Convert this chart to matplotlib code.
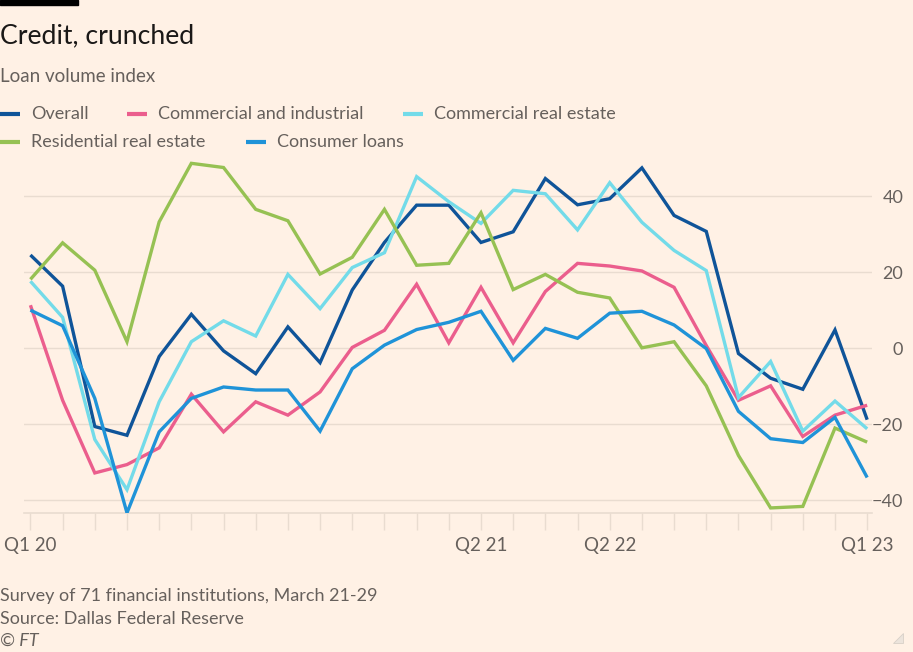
import numpy as np
import matplotlib
matplotlib.use("Agg")
import matplotlib.pyplot as plt
from matplotlib.lines import Line2D
from matplotlib.patches import Rectangle, Polygon

# survey rounds, Q1 20 .. Q1 23
x_labels = ["Q1 20"] + [""] * 13 + ["Q2 21"] + [""] * 3 + ["Q2 22"] + [""] * 7 + ["Q1 23"]

overall = [24.5, 16.3, -20.6, -22.9, -2.2, 8.9, -0.7, -6.7, 5.6, -3.8, 15.3, 27.8,
           37.6, 37.6, 27.8, 30.6, 44.6, 37.7, 39.3, 47.4, 34.9, 30.7, -1.4, -7.9,
           -10.8, 4.8, -18.8]
commercial_industrial = [11.3, -13.7, -32.8, -30.6, -26.2, -12.1, -22.0, -14.1, -17.6,
                         -11.5, 0.2, 4.7, 16.8, 1.4, 16.0, 1.4, 14.9, 22.3, 21.6, 20.3,
                         16.0, 0.7, -13.7, -9.9, -23.2, -17.6, -15.0]
commercial_re = [17.6, 8.1, -24.0, -37.2, -14.1, 1.7, 7.2, 3.2, 19.4, 10.4, 21.2, 25.1,
                 45.1, 38.5, 32.8, 41.5, 40.6, 31.1, 43.5, 33.1, 25.7, 20.4, -13.0, -3.5,
                 -21.8, -13.9, -21.2]
residential_re = [18.1, 27.7, 20.5, 1.7, 33.2, 48.6, 47.5, 36.5, 33.5, 19.5, 23.9, 36.5,
                  21.8, 22.3, 35.6, 15.4, 19.4, 14.7, 13.2, 0.1, 1.7, -9.9, -28.2, -42.0,
                  -41.6, -21.0, -24.7]
consumer = [10.0, 5.9, -13.2, -43.3, -22.0, -13.2, -10.2, -11.0, -11.0, -21.8, -5.4, 0.8,
            4.9, 6.8, 9.7, -3.2, 5.2, 2.6, 9.2, 9.7, 6.1, -0.1, -16.6, -23.8, -24.8,
            -18.2, -34.0]

series = [
    ("Overall", overall, "#0f5499"),
    ("Commercial and industrial", commercial_industrial, "#eb5e8d"),
    ("Commercial real estate", commercial_re, "#73dbe9"),
    ("Residential real estate", residential_re, "#96c153"),
    ("Consumer loans", consumer, "#1f93d8"),
]

bg = "#fff1e5"
grey_text = "#66605c"
grid_col = "#e9dcd0"
font = "Lato"

W, H = 913, 652
fig = plt.figure(figsize=(W / 100, H / 100), dpi=100, facecolor=bg)


def fx(px):
    return px / W


def fy(py):
    return 1 - py / H


ax = fig.add_axes([fx(24), fy(512.5), fx(872 - 24), (512.5 - 158) / H])
ax.set_facecolor(bg)

x = np.arange(len(overall))
for name, vals, col in series:
    ax.plot(x, vals, color=col, lw=2.4, solid_joinstyle="miter", solid_capstyle="butt",
            zorder=3)

ax.set_xlim(-0.2, 26.15)
ax.set_ylim(-43.2, 50)
ax.set_yticks([-40, -20, 0, 20, 40])
ax.grid(axis="y", color=grid_col, lw=1)
ax.yaxis.tick_right()
ax.tick_params(axis="y", length=0, pad=22.5, labelsize=13, labelcolor=grey_text)
for lab in ax.get_yticklabels():
    lab.set_fontfamily(font)
    lab.set_horizontalalignment("right")

ax.set_xticks(x)
ax.set_xticklabels(x_labels, fontfamily=font)
ax.tick_params(axis="x", length=12, width=1, color=grid_col, pad=6, labelsize=13.5,
               labelcolor=grey_text)
for s in ["top", "right", "left"]:
    ax.spines[s].set_visible(False)
ax.spines["bottom"].set_color(grid_col)
ax.spines["bottom"].set_linewidth(1.2)

# header
fig.add_artist(Rectangle((0, fy(5)), fx(78), fy(0) - fy(5), color="black",
                         transform=fig.transFigure))
fig.text(0, fy(43), "Credit, crunched", fontsize=19.2, color="#1a1817",
         fontfamily=font, va="baseline")
fig.text(0, fy(82), "Loan volume index", fontsize=13.5, color=grey_text,
         fontfamily=font, va="baseline")

# legend (flow layout as in the original)
legend_pos = [(0, 114), (127, 114), (403, 114), (0, 142), (246, 142)]
for (name, vals, col), (lx, ly) in zip(series, legend_pos):
    fig.add_artist(Line2D([fx(lx), fx(lx + 20)], [fy(ly), fy(ly)], color=col, lw=3,
                          transform=fig.transFigure, solid_capstyle="butt"))
    fig.text(fx(lx + 31), fy(ly), name, fontsize=13, color=grey_text,
             fontfamily=font, va="center")

# footer
fig.text(0, fy(601), "Survey of 71 financial institutions, March 21-29", fontsize=13,
         color=grey_text, fontfamily=font, va="baseline")
fig.text(0, fy(624), "Source: Dallas Federal Reserve", fontsize=13,
         color=grey_text, fontfamily=font, va="baseline")
fig.text(0, fy(646), "\u00a9 FT", fontsize=13, color=grey_text, fontfamily=font,
         style="italic", va="baseline")

fig.add_artist(Polygon([[fx(903), fy(633)], [fx(903), fy(643)], [fx(893), fy(643)]],
                       closed=True, facecolor="#ece4dc", edgecolor="#d8d0c8", lw=0.6,
                       transform=fig.transFigure))

fig.savefig("out.png", dpi=100, facecolor=bg)
